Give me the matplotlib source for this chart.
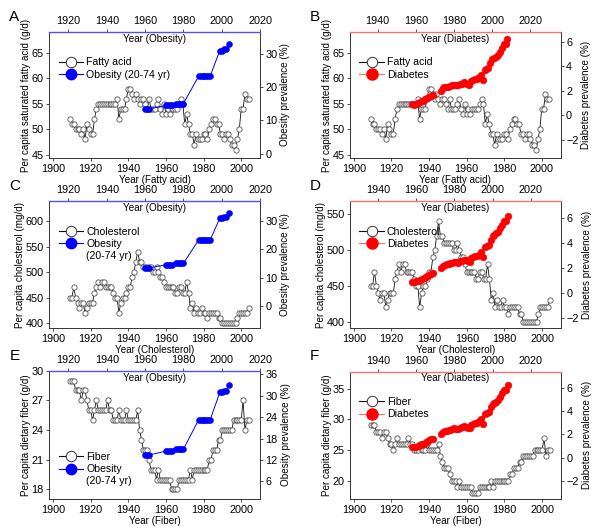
import numpy as np
import matplotlib
matplotlib.use("Agg")
import matplotlib.pyplot as plt
from matplotlib.lines import Line2D

plt.rcParams['font.family'] = ['Liberation Sans', 'DejaVu Sans']

# ---------------- data ----------------
nutr_years = list(range(1909, 2005))

fatty_acid = [52, 51, 51, 50, 50, 50, 49, 50, 48, 51, 50, 49, 49, 52, 54, 55,
              55, 55, 55, 55, 55, 55, 55, 55, 55, 56, 52, 54, 54, 54, 56, 58,
              58, 57, 56, 57, 56, 55, 56, 56, 55, 54, 56, 54, 54, 54, 55, 56,
              54, 53, 55, 53, 54, 53, 54, 54, 54, 54, 55, 56, 55, 51, 53, 51,
              49, 49, 47, 49, 48, 48, 48, 49, 49, 48, 50, 51, 52, 52, 51, 51,
              49, 49, 48, 49, 49, 48, 47, 47, 46, 48, 50, 54, 54, 57, 56, 56]

cholesterol = [450, 450, 470, 450, 440, 430, 440, 440, 420, 430, 440, 440, 440, 460, 470, 480,
               470, 480, 480, 470, 470, 470, 470, 460, 450, 450, 420, 440, 450, 450, 460, 470,
               470, 490, 500, 520, 540, 520, 520, 510, 510, 510, 510, 510, 500, 500, 510, 500,
               490, 490, 480, 470, 470, 470, 470, 470, 460, 460, 470, 470, 460, 460, 480, 460,
               430, 440, 420, 430, 420, 420, 430, 420, 420, 410, 420, 420, 420, 420, 420, 410,
               410, 400, 400, 400, 400, 400, 400, 400, 400, 410, 420, 420, 420, 420, 420, 430]

fiber = [29, 29, 29, 28, 28, 28, 27, 28, 28, 27, 26, 26, 25, 26, 27, 26,
         26, 26, 26, 26, 27, 26, 26, 25, 25, 25, 26, 25, 25, 25, 26, 25,
         25, 25, 25, 25, 26, 24, 23, 22, 22, 22, 21, 20, 20, 20, 19, 20,
         19, 19, 19, 19, 19, 19, 18, 18, 18, 18, 19, 19, 19, 19, 19, 19,
         20, 19, 20, 20, 20, 20, 20, 20, 20, 20, 21, 21, 22, 22, 22, 23,
         23, 24, 24, 24, 24, 24, 24, 25, 25, 25, 25, 25, 27, 24, 25, 25]

obesity_years = [1960, 1961, 1962, 1971, 1972, 1973, 1974, 1976, 1977, 1978, 1979, 1980,
                 1988, 1989, 1990, 1991, 1992, 1993, 1994, 1999, 2000, 2001, 2002, 2004]
obesity = [13.4, 13.4, 13.4, 14.5, 14.5, 14.5, 14.5, 15.0, 15.0, 15.0, 15.0, 15.0,
           23.3, 23.3, 23.3, 23.3, 23.3, 23.3, 23.3, 30.9, 30.9, 31.3, 31.3, 32.9]

diabetes_years = list(range(1958, 1970)) + list(range(1973, 2009))
diabetes = [0.93, 0.88, 0.95, 1.0, 1.08, 1.15, 1.2, 1.3, 1.38, 1.5, 1.58, 1.62,
            2.0, 2.2, 2.3, 2.32, 2.35, 2.4, 2.45, 2.5, 2.48, 2.45, 2.55, 2.6,
            2.7, 2.65, 2.55, 2.5, 2.8, 2.9, 2.95, 3.0, 3.1, 3.3, 2.9, 3.7,
            3.8, 3.9, 4.3, 4.6, 4.7, 4.8, 4.9, 5.2, 5.5, 5.8, 5.8, 6.2]

# ---------------- layout ----------------
W, H = 600, 531
fig = plt.figure(figsize=(W / 100, H / 100), dpi=100)

def rect(l, t, r, b):
    return [l / W, 1 - b / H, (r - l) / W, (b - t) / H]

BLUE = '#0000ff'
BLUE_SP = '#5050ff'
RED = '#ff0000'
RED_L = '#ff7070'
TFS = 7.8
LFS = 7.1

panels = [
    dict(letter='A', r=(49.3, 32, 260, 158), y=fatty_acid, yname='Fatty acid',
         ylab='Per capita saturated fatty acid (g/d)', xlab='Year (Fatty acid)',
         ylim=(44.35, 69.1), yt=[45, 50, 55, 60, 65], kind='ob',
         ylim2=(-1.3, 36.5), yt2=[0, 10, 20, 30], leg='upper', two_line=False),
    dict(letter='B', r=(350, 32, 560.5, 158), y=fatty_acid, yname='Fatty acid',
         ylab='Per capita saturated fatty acid (g/d)', xlab='Year (Fatty acid)',
         ylim=(44.35, 69.1), yt=[45, 50, 55, 60, 65], kind='db',
         ylim2=(-3.49, 6.81), yt2=[-2, 0, 2, 4, 6], leg='upper'),
    dict(letter='C', r=(49.3, 201, 260, 328.3), y=cholesterol, yname='Cholesterol',
         ylab='Per capita cholesterol (mg/d)', xlab='Year (Cholesterol)',
         ylim=(390, 639), yt=[400, 450, 500, 550, 600], kind='ob',
         ylim2=(-7.9, 37), yt2=[0, 10, 20, 30], leg='upper', two_line=True),
    dict(letter='D', r=(350, 201, 561, 328.3), y=cholesterol, yname='Cholesterol',
         ylab='Per capita cholesterol (mg/d)', xlab='Year (Cholesterol)',
         ylim=(390.7, 568.6), yt=[400, 450, 500, 550], kind='db',
         ylim2=(-2.8, 7.39), yt2=[-2, 0, 2, 4, 6], leg='upper'),
    dict(letter='E', r=(49.3, 370.7, 260, 499.3), y=fiber, yname='Fiber',
         ylab='Per capita dietary fiber (g/d)', xlab='Year (Fiber)',
         ylim=(17, 30), yt=[18, 21, 24, 27, 30], kind='ob',
         ylim2=(1.0, 37), yt2=[6, 12, 18, 24, 30, 36], leg='lower', two_line=True),
    dict(letter='F', r=(350, 371.5, 561, 499), y=fiber, yname='Fiber',
         ylab='Per capita dietary fiber (g/d)', xlab='Year (Fiber)',
         ylim=(17, 37.8), yt=[20, 25, 30, 35], kind='db',
         ylim2=(-3.54, 7.37), yt2=[-2, 0, 2, 4, 6], leg='upper'),
]

for p in panels:
    rc = rect(*p['r'])
    ax = fig.add_axes(rc)
    ax2 = fig.add_axes(rc, label=p['letter'] + '2')
    ax2.patch.set_visible(False)

    # primary series
    ax.plot(nutr_years, p['y'], '-', color='#111111', lw=0.6,
            marker='o', ms=3.8, mfc='white', mec='#444444', mew=0.55)
    ax.set_xlim(1898, 2010)
    ax.set_xticks([1900, 1920, 1940, 1960, 1980, 2000])
    ax.set_ylim(*p['ylim'])
    ax.set_yticks(p['yt'])
    ax.set_xlabel(p['xlab'], fontsize=LFS, labelpad=1)
    ax.set_ylabel(p['ylab'], fontsize=LFS, labelpad=0.5)
    ax.spines['top'].set_visible(False)
    ax.spines['right'].set_visible(False)
    for s in ('left', 'bottom'):
        ax.spines[s].set_linewidth(0.7)
        ax.spines[s].set_color('#333333')
    ax.tick_params(labelsize=TFS, length=2.5, width=0.6, pad=1.5, color='#333333')

    # secondary series
    ax2.xaxis.tick_top()
    ax2.yaxis.tick_right()
    ax2.yaxis.set_label_position('right')
    ax2.spines['left'].set_visible(False)
    ax2.spines['bottom'].set_visible(False)
    ax2.spines['right'].set_linewidth(0.7)
    ax2.spines['right'].set_color('#333333')
    if p['kind'] == 'ob':
        ax2.plot(obesity_years, obesity, '-', color=BLUE, lw=0.7,
                 marker='o', ms=4.4, mfc=BLUE, mec=BLUE, mew=0.3)
        ax2.set_xlim(1910, 2020)
        ax2.set_xticks([1920, 1940, 1960, 1980, 2000, 2020])
        ax2.spines['top'].set_color(BLUE_SP)
        ax2.set_ylabel('Obesity prevalence (%)', fontsize=LFS, labelpad=2)
        top_lab = 'Year (Obesity)'
        h2 = Line2D([], [], color=BLUE, lw=0.8, marker='o', ms=7.5, mfc=BLUE, mec=BLUE)
        lab2 = 'Obesity' if p['two_line'] else 'Obesity (20-74 yr)'
    else:
        dy = np.array(diabetes_years)
        dv = np.array(diabetes)
        breaks = np.where(np.diff(dy) > 1)[0] + 1
        for seg_y, seg_v in zip(np.split(dy, breaks), np.split(dv, breaks)):
            ax2.plot(seg_y, seg_v, '-', color=RED_L, lw=0.7,
                     marker='o', ms=4.9, mfc=RED, mec=RED, mew=0.3)
        ax2.set_xlim(1925.5, 2035.8)
        ax2.set_xticks([1940, 1960, 1980, 2000, 2020])
        ax2.spines['top'].set_color(RED_L)
        ax2.set_ylabel('Diabetes prevalence (%)', fontsize=LFS, labelpad=2)
        top_lab = 'Year (Diabetes)'
        h2 = Line2D([], [], color=RED_L, lw=0.8, marker='o', ms=8, mfc=RED, mec=RED)
        lab2 = 'Diabetes'
    ax2.spines['top'].set_linewidth(1.0)
    ax2.set_ylim(*p['ylim2'])
    ax2.set_yticks(p['yt2'])
    ax2.tick_params(labelsize=TFS, length=2.5, width=0.6, pad=1.5, color='#333333')
    ax2.text(0.5, 0.985, top_lab, transform=ax2.transAxes, ha='center', va='top',
             fontsize=LFS)

    # legend
    h1 = Line2D([], [], color='#111111', lw=0.8, marker='o', ms=7.5, mfc='white',
                mec='#333333', mew=0.7)
    handles = [h1, h2]
    labels = [p['yname'], lab2]
    if p.get('two_line'):
        handles.append(Line2D([], [], linestyle='none'))
        labels.append('(20-74 yr)')
    if p['leg'] == 'upper':
        loc, anchor = 'upper left', (0.02, 0.84)
    else:
        loc, anchor = 'lower left', (0.02, 0.06)
    ax2.legend(handles, labels, loc=loc, bbox_to_anchor=anchor, frameon=False,
               fontsize=LFS + 0.5, handlelength=2.3, handletextpad=0.3,
               labelspacing=0.2, borderaxespad=0.3, borderpad=0.2)

    fig.text((p['r'][0] - 40) / W, 1 - (p['r'][1] - 22) / H, p['letter'],
             fontsize=11, ha='left', va='top')

fig.savefig('out.png', dpi=100)
